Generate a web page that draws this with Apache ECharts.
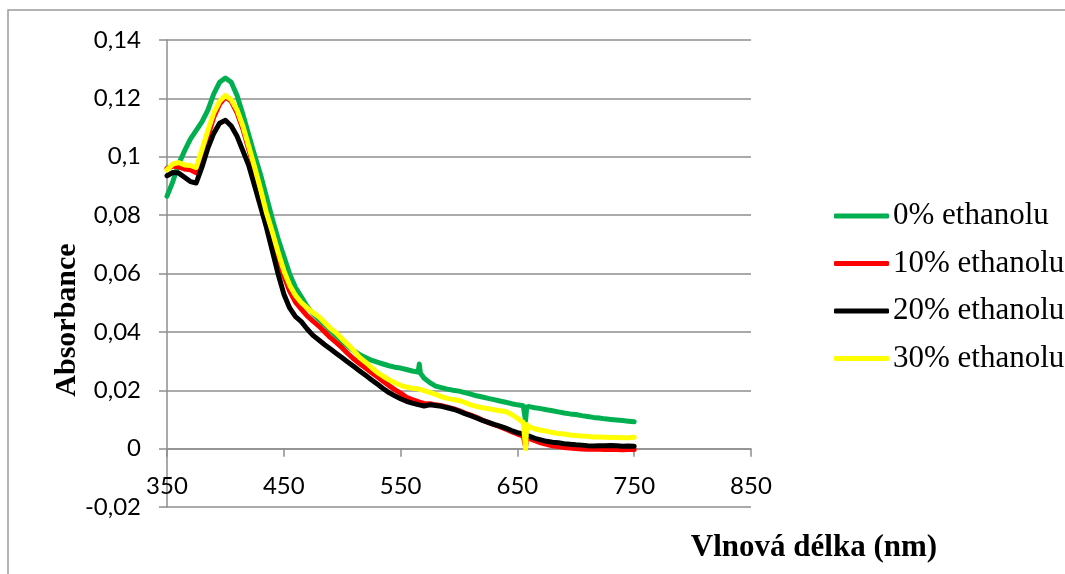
<!DOCTYPE html>
<html>
<head>
<meta charset="utf-8">
<title>Absorbance</title>
<script src="https://cdn.jsdelivr.net/npm/echarts@6/dist/echarts.min.js"></script>
<style>
  html, body { margin: 0; padding: 0; background: #fff; }
  #chart { width: 1065px; height: 574px; }
</style>
</head>
<body>
<div id="chart"></div>
<script>
// Wavelength grid (nm), shared by all spectra
const wavelengths = [
  350,355,360,365,370,375,380,385,390,395,
  400,405,410,415,420,425,430,435,440,445,
  450,455,460,465,470,475,480,485,490,495,
  500,505,510,515,520,525,530,535,540,545,
  550,555,560,565,566,567,570,575,580,585,
  590,595,600,605,610,615,620,625,630,635,
  640,645,650,655,657,658,660,665,670,675,
  680,685,690,695,700,705,710,715,720,725,
  730,735,740,745,750
];

// Absorbance, 0 % ethanol
const eth0 = [
  0.0865,0.0915,0.0975,0.1020,0.1060,0.1090,0.1120,0.1160,0.1215,0.1255,
  0.1270,0.1255,0.1210,0.1145,0.1075,0.1005,0.0940,0.0865,0.0790,0.0720,
  0.0660,0.0598,0.0552,0.0520,0.0487,0.0462,0.0443,0.0425,0.0405,0.0385,
  0.0367,0.0350,0.0335,0.0322,0.0312,0.0303,0.0296,0.0290,0.0284,0.0279,
  0.0276,0.0271,0.0266,0.0262,0.0290,0.0258,0.0242,0.0226,0.0214,0.0209,
  0.0204,0.0200,0.0197,0.0192,0.0187,0.0181,0.0177,0.0172,0.0168,0.0163,
  0.0159,0.0154,0.0150,0.0147,0.0095,0.0143,0.0144,0.0140,0.0137,0.0133,
  0.0130,0.0126,0.0122,0.0119,0.0117,0.0113,0.0110,0.0107,0.0105,0.0102,
  0.0100,0.0098,0.0096,0.0094,0.0092
];

// Absorbance, 10 % ethanol
const eth10 = [
  0.0960,0.0968,0.0965,0.0958,0.0955,0.0945,0.1000,0.1070,0.1135,0.1180,
  0.1205,0.1190,0.1150,0.1095,0.1025,0.0955,0.0880,0.0805,0.0730,0.0655,
  0.0592,0.0540,0.0502,0.0478,0.0455,0.0437,0.0420,0.0400,0.0380,0.0363,
  0.0345,0.0325,0.0307,0.0291,0.0276,0.0261,0.0246,0.0231,0.0216,0.0202,
  0.0190,0.0176,0.0168,0.0161,0.0160,0.0158,0.0155,0.0154,0.0150,0.0147,
  0.0142,0.0137,0.0130,0.0122,0.0115,0.0107,0.0098,0.0090,0.0082,0.0075,
  0.0067,0.0058,0.0050,0.0043,0.0005,0.0038,0.0035,0.0027,0.0020,0.0015,
  0.0010,0.0007,0.0004,0.0002,0.0000,-0.0001,-0.0002,-0.0002,-0.0002,-0.0003,
  -0.0002,-0.0003,-0.0004,-0.0003,-0.0003
];

// Absorbance, 20 % ethanol
const eth20 = [
  0.0935,0.0946,0.0944,0.0930,0.0915,0.0910,0.0965,0.1030,0.1080,0.1115,
  0.1125,0.1105,0.1070,0.1020,0.0970,0.0900,0.0830,0.0760,0.0680,0.0600,
  0.0530,0.0482,0.0452,0.0435,0.0410,0.0388,0.0372,0.0356,0.0341,0.0326,
  0.0311,0.0296,0.0281,0.0266,0.0251,0.0236,0.0221,0.0206,0.0192,0.0181,
  0.0171,0.0162,0.0156,0.0151,0.0151,0.0149,0.0146,0.0150,0.0148,0.0145,
  0.0140,0.0135,0.0128,0.0120,0.0113,0.0105,0.0097,0.0090,0.0083,0.0077,
  0.0070,0.0062,0.0055,0.0050,0.0047,0.0045,0.0043,0.0035,0.0030,0.0025,
  0.0022,0.0020,0.0017,0.0015,0.0013,0.0012,0.0010,0.0009,0.0010,0.0010,
  0.0011,0.0010,0.0008,0.0009,0.0008
];

// Absorbance, 30 % ethanol
const eth30 = [
  0.0955,0.0975,0.0980,0.0972,0.0970,0.0963,0.1025,0.1090,0.1150,0.1190,
  0.1210,0.1195,0.1160,0.1105,0.1035,0.0965,0.0890,0.0810,0.0745,0.0675,
  0.0610,0.0560,0.0525,0.0500,0.0482,0.0466,0.0452,0.0432,0.0412,0.0396,
  0.0376,0.0356,0.0336,0.0312,0.0296,0.0278,0.0261,0.0248,0.0236,0.0226,
  0.0217,0.0211,0.0207,0.0205,0.0205,0.0202,0.0199,0.0193,0.0186,0.0178,
  0.0172,0.0168,0.0165,0.0158,0.0150,0.0145,0.0140,0.0137,0.0133,0.0130,
  0.0127,0.0117,0.0104,0.0090,0.0000,0.0082,0.0075,0.0068,0.0063,0.0060,
  0.0055,0.0052,0.0050,0.0047,0.0045,0.0043,0.0042,0.0040,0.0040,0.0039,
  0.0038,0.0038,0.0037,0.0037,0.0039
];

const seriesNames = ['0% ethanolu', '10% ethanolu', '20% ethanolu', '30% ethanolu'];
const seriesValues = [eth0, eth10, eth20, eth30];
const seriesColors = ['#00B050', '#FF0000', '#000000', '#FFFF00'];

const xTicks = [350, 450, 550, 650, 750, 850];
const yTicks = [-0.02, 0, 0.02, 0.04, 0.06, 0.08, 0.1, 0.12, 0.14];

const xTitle = 'Vlnová délka (nm)';
const yTitle = 'Absorbance';

const gridColor = '#8e8e8e';
const tickFont = 'Lato, "Liberation Sans", sans-serif';
const serifFont = '"Liberation Serif", "DejaVu Serif", serif';

// plot box
const plotTop = 40, plotBottom = 67, chartH = 574;
const plotH = chartH - plotTop - plotBottom;
// the horizontal axis sits on the zero line: lift it from the bottom edge
const yMin = yTicks[0], yMax = yTicks[yTicks.length - 1];
const zeroLift = plotH * (0 - yMin) / (yMax - yMin);

// decimal comma, no trailing zeros (0,1 / 0 / -0,02)
const fmtY = v => String(+Number(v).toFixed(2)).replace('.', ',');

const chart = echarts.init(document.getElementById('chart'), null, { renderer: 'canvas' });

chart.setOption({
  animation: false,
  backgroundColor: '#ffffff',
  grid: { left: 167, right: 314, top: plotTop, bottom: plotBottom, containLabel: false, outerBoundsMode: 'none' },
  xAxis: {
    type: 'value',
    min: xTicks[0],
    max: xTicks[xTicks.length - 1],
    offset: -zeroLift,
    axisLine: { show: true, onZero: false, lineStyle: { color: gridColor, width: 1.5 } },
    axisTick: { show: true, customValues: xTicks, length: 8, lineStyle: { color: gridColor, width: 1.5 } },
    axisLabel: {
      customValues: xTicks, margin: 26,
      fontFamily: tickFont, fontSize: 24, color: '#000'
    },
    splitLine: { show: false }
  },
  yAxis: {
    type: 'value',
    min: yMin,
    max: yMax,
    interval: 0.02,
    axisLine: { show: true, lineStyle: { color: gridColor, width: 1.5 } },
    axisTick: { show: true, length: 8, lineStyle: { color: gridColor, width: 1.5 } },
    axisLabel: {
      margin: 26, formatter: fmtY,
      fontFamily: tickFont, fontSize: 24, color: '#000'
    },
    splitLine: { show: true, lineStyle: { color: gridColor, width: 1.5 } }
  },
  legend: {
    orient: 'vertical',
    left: 829,
    top: 195,
    itemGap: 15.5,
    itemWidth: 55,
    itemHeight: 5,
    icon: 'roundRect',
    data: seriesNames,
    textStyle: { fontFamily: serifFont, fontSize: 31, lineHeight: 32, color: '#000', padding: [0, 0, 0, -1] }
  },
  series: seriesNames.map((name, k) => ({
    name,
    type: 'line',
    showSymbol: false,
    symbol: 'none',
    data: wavelengths.map((w, i) => [w, seriesValues[k][i]]),
    lineStyle: { color: seriesColors[k], width: 5, cap: 'round', join: 'round' },
    itemStyle: { color: seriesColors[k] },
    z: 2 + k
  })),
  graphic: [
    {
      type: 'rect', z: -1, silent: true,
      shape: { x: 8, y: 10, width: 1200, height: 700 },
      style: { fill: 'none', stroke: '#9a9a9a', lineWidth: 1.5 }
    },
    {
      type: 'text', x: 67, y: 320, rotation: Math.PI / 2,
      style: {
        text: yTitle, font: 'bold 30px ' + serifFont, fill: '#000',
        textAlign: 'center', textVerticalAlign: 'middle'
      }
    },
    {
      type: 'text', x: 814, y: 548,
      style: {
        text: xTitle, font: 'bold 31px ' + serifFont, fill: '#000',
        textAlign: 'center', textVerticalAlign: 'middle'
      }
    }
  ]
});
</script>
</body>
</html>
